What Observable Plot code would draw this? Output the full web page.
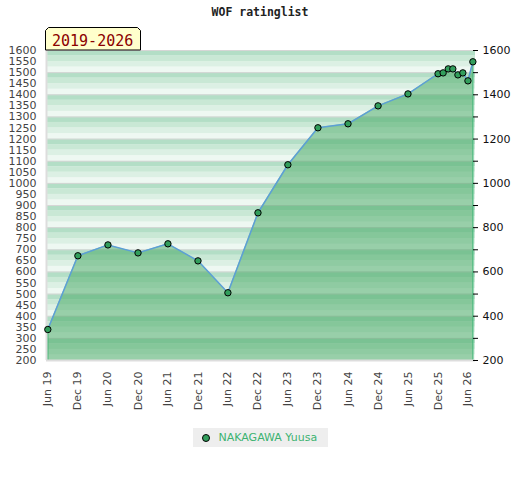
<!DOCTYPE html>
<html><head><meta charset="utf-8">
<script src="https://cdn.jsdelivr.net/npm/d3@7"></script>
<script src="https://cdn.jsdelivr.net/npm/@observablehq/plot@0.6"></script>
<style>
body{margin:0;background:#fff;font-family:"DejaVu Sans",sans-serif;}
#wrap{position:relative;width:520px;height:480px;}
#title{position:absolute;left:0;top:5px;width:520px;text-align:center;font:bold 11.5px "DejaVu Sans Mono",monospace;color:#222;line-height:14px;}
#chart{position:absolute;left:0;top:20px;}
#legend{position:absolute;left:193px;top:428px;width:135px;height:19px;background:#eee;}
#legend .dot{position:absolute;left:8.5px;top:5.5px;width:6px;height:6px;border-radius:50%;background:#329e5c;border:1px solid #000;}
#legend .lbl{position:absolute;left:25.5px;top:0;line-height:19px;font-size:11px;color:#3cb371;white-space:nowrap;}
</style>
</head><body>
<div id="wrap">
<div id="title">WOF ratinglist</div>
<div id="chart"></div>
<div id="legend"><span class="dot"></span><span class="lbl">NAKAGAWA Yuusa</span></div>
</div>
<script>
const seriesName = "NAKAGAWA Yuusa";
const dates = ["2019-06-01","2019-12-01","2020-06-01","2020-12-01","2021-06-01","2021-12-01","2022-06-01","2022-12-01","2023-06-01","2023-12-01","2024-06-01","2024-12-01","2025-06-01","2025-12-01","2026-01-01","2026-02-01","2026-03-01","2026-04-01","2026-05-01","2026-06-01","2026-07-01"];
const ratings = [340,673,722,686,727,650,506,867,1084,1251,1269,1350,1404,1495,1499,1517,1517,1490,1499,1463,1549];
const xTickDates = ["2019-06-01","2019-12-01","2020-06-01","2020-12-01","2021-06-01","2021-12-01","2022-06-01","2022-12-01","2023-06-01","2023-12-01","2024-06-01","2024-12-01","2025-06-01","2025-12-01","2026-06-01"];
const xTickLabels = ["Jun 19","Dec 19","Jun 20","Dec 20","Jun 21","Dec 21","Jun 22","Dec 22","Jun 23","Dec 23","Jun 24","Dec 24","Jun 25","Dec 25","Jun 26"];
const leftTicks = [200,250,300,350,400,450,500,550,600,650,700,750,800,850,900,950,1000,1050,1100,1150,1200,1250,1300,1350,1400,1450,1500,1550,1600];
const rightMinorTicks = [200,300,400,500,600,700,800,900,1000,1100,1200,1300,1400,1500,1600];
const rightLabels = [200,400,600,800,1000,1200,1400,1600];
const periodLabel = "2019-2026";

const data = dates.map((d,i)=>({date:new Date(d), rating:ratings[i]}));
const first = data[0], last = data[data.length-1];
const xDomain = [new Date("2019-05-24"), new Date("2026-07-17")];
const bandColors = ["#b3dec6","#c9e8d5","#dcf0e4","#eef8f2"];
const bands = [];
for (let v = 200; v < 1600; v += 25) bands.push({y1:v, y2:v+25, fill:bandColors[3 - ((v/25)%4)]});
const labelMap = new Map(xTickDates.map((d,i)=>[+new Date(d), xTickLabels[i]]));
const plain = d => String(d);

const chart = Plot.plot({
  width:520, height:400,
  marginTop:30, marginBottom:60, marginLeft:46, marginRight:45,
  style:{fontFamily:"DejaVu Sans", fontSize:"11px", background:"transparent", overflow:"visible"},
  x:{type:"time", domain:xDomain},
  y:{domain:[200,1600]},
  color:{type:"identity"},
  marks:[
    Plot.rect(bands, {y1:"y1", y2:"y2", fill:"fill"}),
    Plot.ruleY(rightMinorTicks, {stroke:"#d6d6d6"}),
    Plot.areaY(data, {x:"date", y1:200, y2:"rating", fill:"rgb(65,166,95)", fillOpacity:0.5}),
    Plot.ruleX([first, last], {x:"date", y1:200, y2:"rating", stroke:"#3cb371", strokeWidth:1.2}),
    Plot.ruleY([200], {stroke:"#ddd", strokeWidth:2}),
    Plot.ruleX([xDomain[0]], {stroke:"#ddd", strokeWidth:2}),
    Plot.line(data, {x:"date", y:"rating", stroke:"#5c9fd6", strokeWidth:1.5}),
    Plot.dot(data, {x:"date", y:"rating", r:3.2, fill:"#329e5c", stroke:"#000", strokeWidth:1}),
    Plot.axisX({ticks:xTickDates.map(d=>new Date(d)), tickFormat:d=>labelMap.get(+d), tickRotate:-90, tickSize:0, tickPadding:11, fill:"#444", label:null}),
    Plot.axisY({ticks:leftTicks, tickFormat:plain, tickSize:0, tickPadding:10, fill:"#444", label:null}),
    Plot.axisY({anchor:"right", ticks:rightMinorTicks, tickSize:5, dx:-3, tickFormat:()=>"", stroke:"#000", label:null}),
    Plot.axisY({anchor:"right", ticks:rightLabels, tickFormat:plain, tickSize:0, tickPadding:7, fill:"#111", label:null})
  ]
});
document.getElementById("chart").appendChild(chart);

const svg = d3.select(chart);
svg.append("polygon")
  .attr("points","45.5,30 45.5,10.5 48.5,7.5 137.5,7.5 140.5,10.5 140.5,30")
  .attr("fill","#ffffcc").attr("stroke","#000").attr("stroke-width",1);
svg.append("text").attr("x",52).attr("y",25.5).attr("text-anchor","start")
  .attr("fill","#8b0000").attr("font-family","DejaVu Sans Mono").attr("font-size",15)
  .text(periodLabel);
</script>
</body></html>
